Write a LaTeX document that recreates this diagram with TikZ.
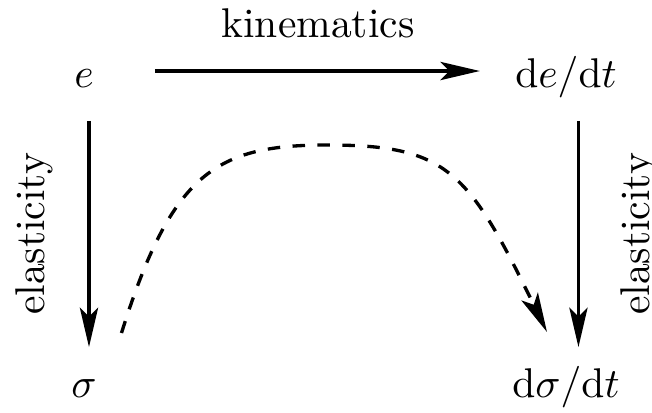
\documentclass[tikz,border=0pt]{standalone}
\usepackage{amsmath}
\usepackage{tikz}
\usetikzlibrary{arrows.meta}

\begin{document}
\begin{tikzpicture}[
x=0.2406pt, y=-0.2406pt,
quantity/.style={anchor=base, text height=7.5pt, text depth=2.5pt},
flow/.style={-{Stealth[length=9.5pt,width=4.4pt,inset=2.2pt]}, thick},
guess/.style={flow, dashed}
]
\useasboundingbox (0,0) rectangle (652,412);
\node[quantity] (e) at (84,87) {$e$};
\node[quantity] (dedt) at (566,87) {$\mathrm{d}e/\mathrm{d}t$};
\node[quantity] (sig) at (84,397.5) {$\sigma$};
\node[quantity] (dsigdt) at (566,397.5) {$\mathrm{d}\sigma/\mathrm{d}t$};
\node[anchor=base] (kin) at (318,37) {kinematics};
\node[rotate=90] (elasl) at (34,234) {elasticity};
\node[rotate=90] (elasr) at (639,234) {elasticity};
\coordinate (dstart) at (121.5,333);
\coordinate (apex) at (327,145);
\coordinate (dend) at (547,332);
\draw[flow, shorten <=11.2pt, shorten >=5pt] ([yshift=1.35pt]e.east) -- ([yshift=1.35pt]dedt.west);
\draw[flow, shorten <=2.1pt, shorten >=1.1pt] ([xshift=1.2pt]e.south) -- ([xshift=1.2pt]sig.north);
\draw[flow, shorten <=2.1pt, shorten >=1.1pt] ([xshift=3pt]dedt.south) -- ([xshift=3pt]dsigdt.north);
\draw[guess] (dstart) .. controls (172,171.5) and (217,145) .. (apex)
  .. controls (447,145) and (468,170) .. (dend);
\end{tikzpicture}
\end{document}
